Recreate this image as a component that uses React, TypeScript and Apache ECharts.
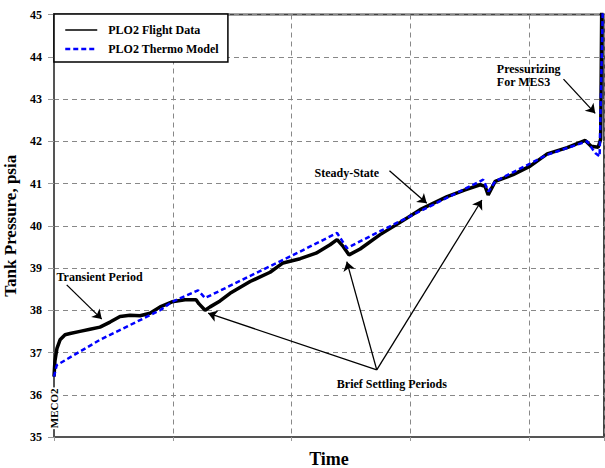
import React, { useEffect, useRef } from "react";
import * as echarts from "echarts";

// Time in arbitrary units (one grid division = 100), pressure in psia
const flightTime = [0, 0.8, 2.5, 5.1, 9.3, 13.5, 21.9, 30.3, 38.7, 47.2, 55.6, 64.0, 72.4, 80.8, 89.3, 99.4, 110.3, 119.6, 122.1, 127.2, 131.4, 139.8, 148.2, 165.1, 181.9, 192.8, 207.2, 220.6, 232.4, 238.3, 243.4, 248.4, 257.7, 274.5, 291.4, 308.2, 330.9, 346.1, 358.7, 362.9, 365.5, 371.4, 386.5, 400.8, 415.2, 432.0, 447.2, 452.2, 458.1, 460.2, 461.1];
const flightPressure = [36.43, 36.8, 37.1, 37.3, 37.42, 37.45, 37.5, 37.55, 37.6, 37.72, 37.85, 37.88, 37.87, 37.93, 38.08, 38.2, 38.25, 38.25, 38.15, 38.0, 38.08, 38.22, 38.4, 38.68, 38.9, 39.12, 39.22, 39.35, 39.55, 39.67, 39.51, 39.31, 39.45, 39.79, 40.08, 40.38, 40.69, 40.85, 40.97, 40.93, 40.73, 41.05, 41.21, 41.41, 41.7, 41.85, 42.02, 41.88, 41.86, 42.05, 45.2];

const modelTime = [0, 2.3, 38.7, 89.3, 99.4, 121.3, 127.2, 207.2, 238.3, 246.5, 274.5, 361.3, 365.7, 371.4, 415.2, 448.8, 455.6, 459.3, 462.1];
const modelPressure = [36.43, 36.7, 37.3, 38.0, 38.2, 38.47, 38.29, 39.39, 39.83, 39.47, 39.87, 41.09, 40.81, 41.05, 41.68, 42.0, 41.72, 41.64, 45.3];

const yTicks = { min: 35, max: 45, interval: 1 };
const xRange = { min: 0, max: 463, interval: 100 };

// Annotation texts: [x, y, text]
const annotationTexts: [number, number, string][] = [
  [38.3, 38.79, "Transient Period"],
  [246.5, 41.26, "Steady-State"],
  [284.4, 36.25, "Brief Settling Periods"],
];
const pressurizingNote: [number, number, string] = [372.8, 43.56, "Pressurizing\nFor MES3"];
const mecoNote: [number, number, string] = [0, 35.68, "MECO2"];

// Arrows: [x1, y1, x2, y2] (arrow head at second point)
const arrows: [number, number, number, number][] = [
  [10.7, 38.6, 40.2, 37.79],
  [282.4, 41.3, 313.8, 40.53],
  [271.7, 36.59, 129.7, 37.93],
  [271.7, 36.59, 246.5, 39.15],
  [271.7, 36.59, 360.2, 40.61],
  [428.9, 43.47, 455.6, 42.66],
];

const FONT = "'Liberation Serif', 'Times New Roman', serif";

export default function App() {
  const ref = useRef<HTMLDivElement>(null);
  useEffect(() => {
    if (!ref.current) return;
    const chart = echarts.init(ref.current, undefined, { renderer: "svg" });
    const flight = flightTime.map((t, i) => [t, flightPressure[i]]);
    const model = modelTime.map((t, i) => [t, modelPressure[i]]);
    const txtStyle = { fontFamily: FONT, fontWeight: "bold" as const, fontSize: 12, color: "#000" };
    chart.setOption({
      animation: false,
      backgroundColor: "#fff",
      grid: {
        left: 54,
        right: 1,
        top: 14.5,
        bottom: 31,
        show: true,
        borderColor: "#444",
        borderWidth: 2,
        outerBoundsMode: "none",
        containLabel: false,
      },
      legend: {
        orient: "vertical",
        left: 54,
        top: 14,
        z: 10,
        backgroundColor: "#fff",
        borderColor: "#000",
        borderWidth: 1.5,
        borderRadius: 0,
        padding: [10, 9, 7, 10],
        itemGap: 7,
        itemWidth: 32,
        itemHeight: 12,
        formatter: (name: string) => "\u00a0\u00a0" + name,
        textStyle: {
          fontFamily: FONT,
          fontWeight: "bold",
          fontSize: 12,
          color: "#000",
        },
        data: [
          { name: "PLO2 Flight Data", lineStyle: { width: 1.5 }, itemStyle: { opacity: 0 } },
          { name: "PLO2 Thermo Model", lineStyle: { width: 2.5 }, itemStyle: { opacity: 0 } },
        ],
      },
      xAxis: {
        type: "value",
        min: xRange.min,
        max: xRange.max,
        interval: xRange.interval,
        name: "Time",
        nameLocation: "middle",
        nameGap: 14,
        nameTextStyle: { fontFamily: FONT, fontWeight: "bold", fontSize: 18, lineHeight: 16, color: "#000" },
        axisLine: { show: true, lineStyle: { color: "#555", width: 2 } },
        axisTick: { show: true, length: 4, lineStyle: { color: "#999" } },
        axisLabel: { show: false },
        splitLine: { show: true, lineStyle: { color: "#888", type: [5, 4], width: 1 } },
      },
      yAxis: {
        type: "value",
        min: yTicks.min,
        max: yTicks.max,
        interval: yTicks.interval,
        name: "Tank Pressure, psia",
        nameLocation: "middle",
        nameGap: 27,
        nameTextStyle: { fontFamily: FONT, fontWeight: "bold", fontSize: 17, color: "#000" },
        axisLine: { show: true, lineStyle: { color: "#555", width: 2 } },
        axisTick: { show: true, length: 6, lineStyle: { color: "#999" } },
        axisLabel: { fontFamily: FONT, fontWeight: "bold", fontSize: 12, color: "#000", margin: 12 },
        splitLine: { show: true, lineStyle: { color: "#888", type: [5, 4], width: 1 } },
      },
      series: [
        {
          name: "PLO2 Flight Data",
          type: "line",
          data: flight,
          symbol: "none",
          color: "#000",
          lineStyle: { color: "#000", width: 3.5 },
          z: 3,
          markLine: {
            silent: true,
            symbol: ["none", "arrow"],
            symbolSize: 9,
            label: { show: false },
            lineStyle: { color: "#000", width: 1.3, type: "solid" },
            data: arrows.map(([x1, y1, x2, y2]) => [{ coord: [x1, y1] }, { coord: [x2, y2] }]),
          },
          markPoint: {
            silent: true,
            symbol: "circle",
            symbolSize: 0,
            z: 20,
            data: [
              ...annotationTexts.map(([x, y, t]) => ({
                coord: [x, y],
                label: { show: true, position: "inside", formatter: t, ...txtStyle },
              })),
              {
                coord: [pressurizingNote[0], pressurizingNote[1]],
                label: {
                  show: true,
                  position: "inside",
                  align: "left",
                  lineHeight: 13,
                  formatter: pressurizingNote[2],
                  ...txtStyle,
                },
              },
              {
                coord: [mecoNote[0], mecoNote[1]],
                label: {
                  show: true,
                  position: "inside",
                  rotate: 90,
                  formatter: mecoNote[2],
                  backgroundColor: "#fff",
                  padding: [2, 1, 2, 1],
                  ...txtStyle,
                  fontSize: 11,
                },
              },
            ],
          },
        },
        {
          name: "PLO2 Thermo Model",
          type: "line",
          data: model,
          symbol: "none",
          color: "#0000ff",
          lineStyle: { color: "#0000ff", width: 2.5, type: [5, 3] },
          z: 4,
        },
      ],
    });
    return () => chart.dispose();
  }, []);
  return <div ref={ref} style={{ width: 605, height: 468, position: "absolute", left: 0, top: 0 }} />;
}
